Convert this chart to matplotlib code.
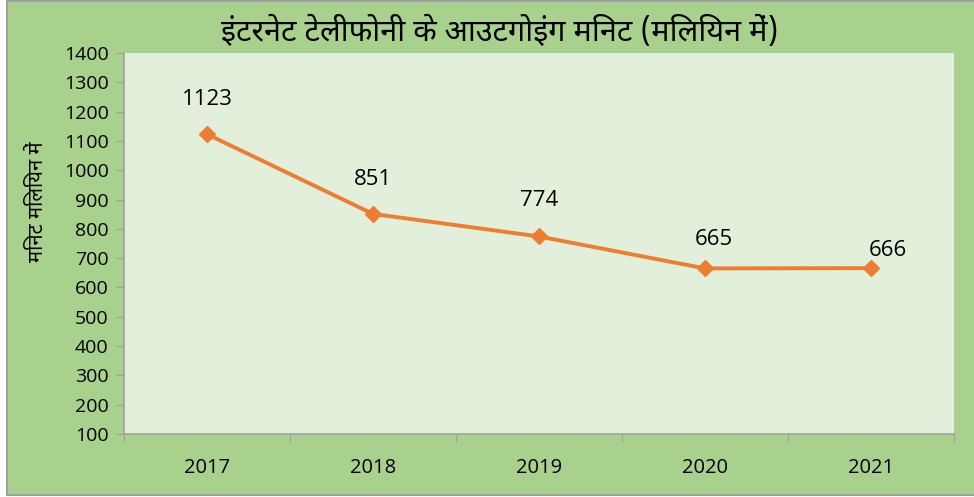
import matplotlib
matplotlib.use("Agg")
import matplotlib.pyplot as plt
from matplotlib.patches import Rectangle

# --- Data ---------------------------------------------------------------------
years = ["2017", "2018", "2019", "2020", "2021"]
minutes = [1123, 851, 774, 665, 666]
yticks = list(range(100, 1401, 100))

title = "इंटरनेट टेलीफोनी के आउटगोइंग मिनट (मिलियन में)"
ylabel = "मिनट मिलियन में"

# label offsets (points) from each marker, tuned by eye
label_offsets = [(0, 25), (0, 25), (0, 26), (6, 21), (12, 13)]

# --- Style --------------------------------------------------------------------
hindi_fonts = ["Noto Sans Devanagari", "Lohit Devanagari", "Mangal", "DejaVu Sans"]
plt.rcParams["font.family"] = ["Open Sans", "DejaVu Sans"]

bg_green = "#A9D18E"
plot_bg = "#E2EFDA"
line_col = "#ED7D31"
axis_col = "#A0A0A0"

fig = plt.figure(figsize=(9.74, 4.97), dpi=100)
fig.patch.set_facecolor("white")

# green chart area with gray border (left / top / bottom)
fig.patches.append(Rectangle((7 / 974, 1 - 495 / 497), 1.0, 494 / 497,
                             transform=fig.transFigure, facecolor=bg_green,
                             edgecolor=axis_col, linewidth=1.5, zorder=-5))

ax = fig.add_axes([124 / 974, 1 - 434 / 497, (954 - 124) / 974, (434 - 53) / 497])
ax.set_facecolor(plot_bg)

x = range(len(years))
ax.plot(x, minutes, color=line_col, linewidth=2.8, marker="D", markersize=8,
        markeredgecolor=line_col, zorder=3)

for i, v in enumerate(minutes):
    dx, dy = label_offsets[i]
    ax.annotate(str(v), (i, v), xytext=(dx, dy), textcoords="offset points",
                ha="center", va="center", fontsize=16, color="black")

ax.set_xlim(-0.5, len(years) - 0.5)
ax.set_ylim(100, 1400)
ax.set_yticks(yticks)
ax.tick_params(axis="y", direction="out", length=6, color=axis_col,
               labelsize=14, pad=5)

# category labels centered between boundary ticks (Excel style)
ax.set_xticks([i - 0.5 for i in range(len(years) + 1)])
ax.set_xticklabels([""] * (len(years) + 1))
ax.set_xticks(list(x), minor=True)
ax.set_xticklabels(years, minor=True, fontsize=14.5)
ax.tick_params(axis="x", which="major", direction="out", length=6, color=axis_col)
ax.tick_params(axis="x", which="minor", length=0, pad=17)

for side in ["top", "right"]:
    ax.spines[side].set_visible(False)
for side in ["left", "bottom"]:
    ax.spines[side].set_color(axis_col)
    ax.spines[side].set_linewidth(1.2)

fig.text(500 / 974, 1 - 32 / 497, title, ha="center", va="center",
         fontsize=22, fontweight="bold", family=hindi_fonts)
fig.text(38 / 974, 1 - 202 / 497, ylabel, ha="center", va="center",
         rotation=90, fontsize=14.5, fontweight="bold", family=hindi_fonts)

fig.savefig("out.png", dpi=100, facecolor=fig.get_facecolor())
